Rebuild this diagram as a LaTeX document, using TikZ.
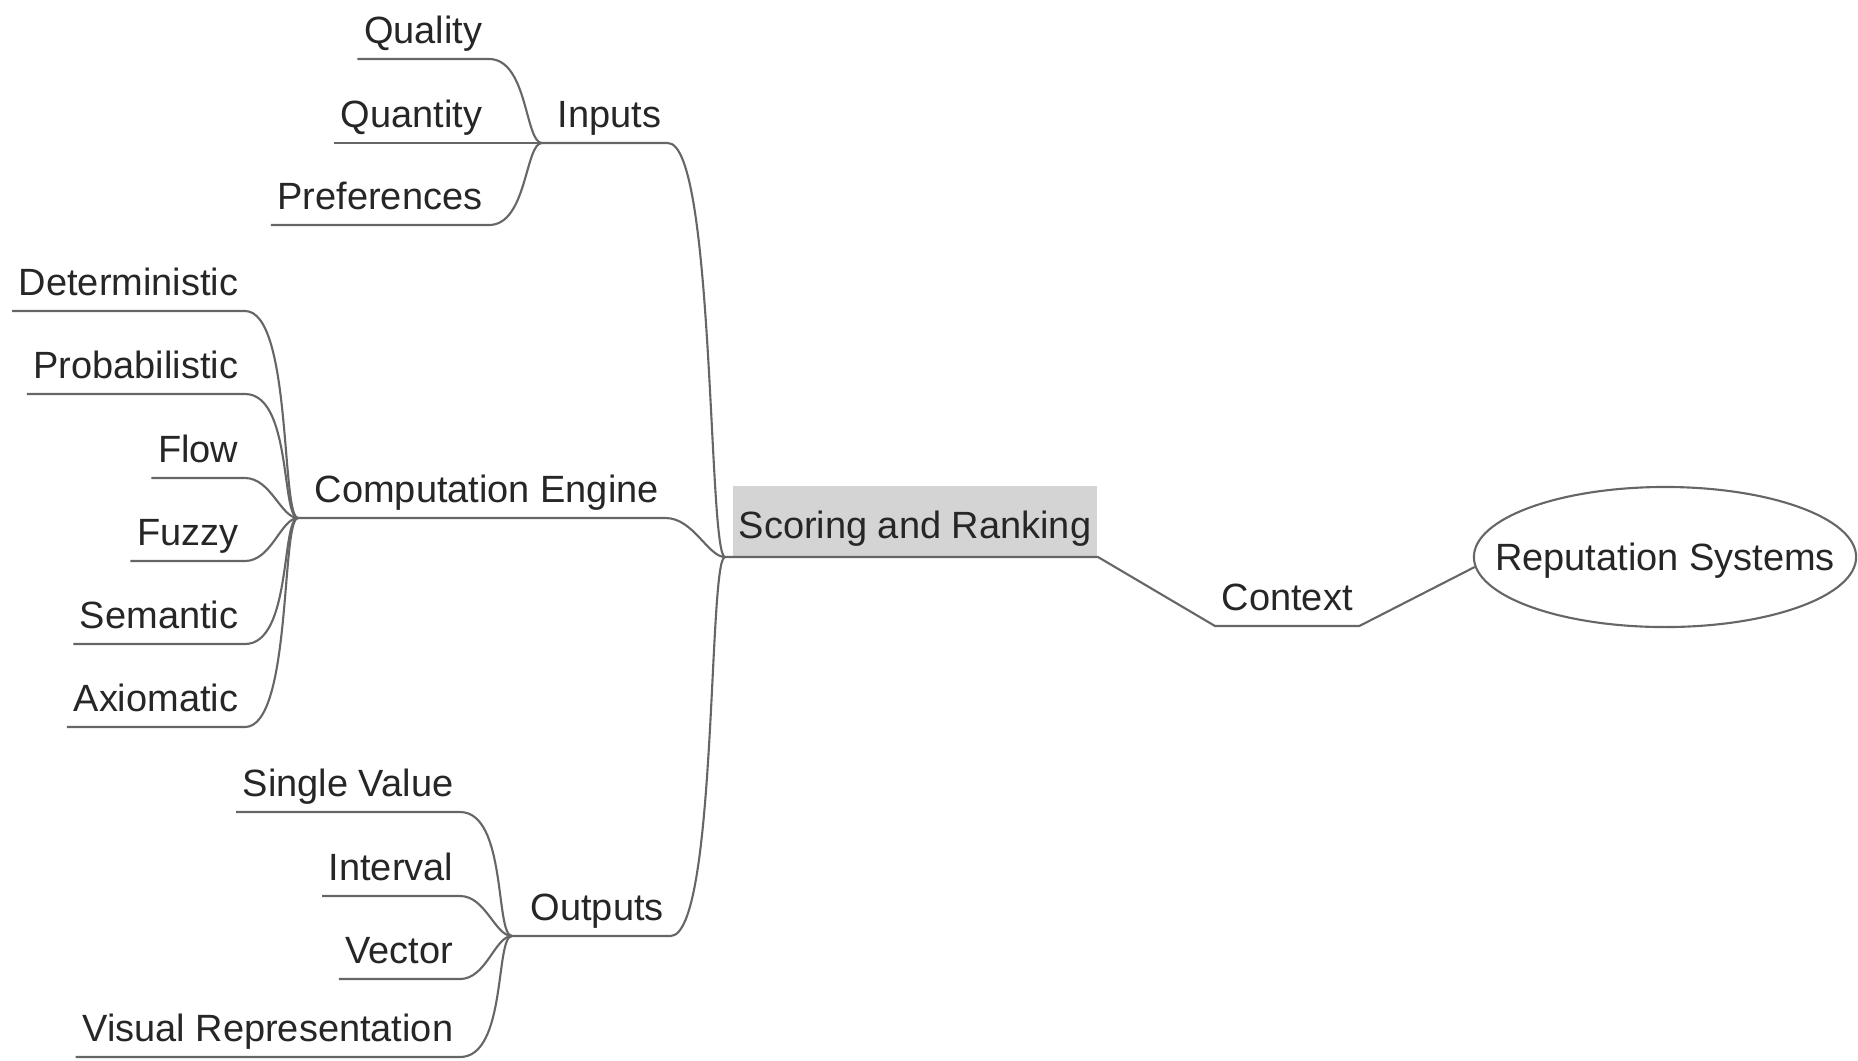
\documentclass[tikz,border=0pt]{standalone}
\usepackage{fontspec}
\setmainfont{Liberation Sans}
\usetikzlibrary{shapes.geometric}

\begin{document}
\begin{tikzpicture}[x=0.01cm, y=-0.01cm, font=\fontsize{10.8pt}{13pt}\selectfont,
  branch/.style={draw=black!60, line width=0.6pt},
  link/.style={out=0, in=180, out max distance=0.47cm, in max distance=0.17cm},
  leaf/.style={inner xsep=0.06cm, inner ysep=0.06cm, text height=0.28cm, text depth=0.09cm, text=black!85},
  rootbox/.style={leaf, fill=black!17, inner ysep=0.085cm, text height=0.44cm}]
\useasboundingbox (0,0) rectangle (1858,1060);
% junction points
\coordinate (jroot) at (725,557);
\coordinate (jin) at (542,143);
\coordinate (jce) at (298,518);
\coordinate (jout) at (512,936);
% centre, context and topic
\node[rootbox, anchor=south west] (score) at (732,557) {Scoring and Ranking};
\node[leaf, anchor=south west] (context) at (1215,626) {Context};
\node[ellipse, draw=black!60, line width=0.6pt, minimum width=3.82cm, minimum height=1.40cm, inner sep=0pt] (rep) at (1665,557) {};
\node[leaf] (reptext) at ([yshift=-1pt]rep.center) {Reputation Systems};
\draw[branch] (jroot) -- (score.south east) -- (context.south west) -- (context.south east) -- (rep.183);
% main branches
\node[leaf, anchor=south west] (inputs) at (551,143) {Inputs};
\node[leaf, anchor=south west] (engine) at (308,518) {Computation Engine};
\node[leaf, anchor=south west] (outputs) at (524,936) {Outputs};
\foreach \hub/\jn in {inputs/jin, engine/jce, outputs/jout}
  \draw[branch] (\jn) -- (\hub.south east) to[link] (jroot);
% leaves
\foreach \nm/\txt/\yy in {quality/Quality/59, quantity/Quantity/143, prefs/Preferences/225} {
  \node[leaf, anchor=south east] (\nm) at (489,\yy) {\txt};
  \draw[branch] (\nm.south west) -- (\nm.south east) to[link] (jin);
}
\foreach \nm/\txt/\yy in {determ/Deterministic/311, prob/Probabilistic/394, flow/Flow/478,
    fuzzy/Fuzzy/561, semantic/Semantic/644, axiom/Axiomatic/727} {
  \node[leaf, anchor=south east] (\nm) at (245,\yy) {\txt};
  \draw[branch] (\nm.south west) -- (\nm.south east) to[link] (jce);
}
\foreach \nm/\txt/\yy in {single/Single Value/812, interval/Interval/896, vector/Vector/979,
    visual/Visual Representation/1057} {
  \node[leaf, anchor=south east] (\nm) at (460,\yy) {\txt};
  \draw[branch] (\nm.south west) -- (\nm.south east) to[link] (jout);
}
\end{tikzpicture}
\end{document}
